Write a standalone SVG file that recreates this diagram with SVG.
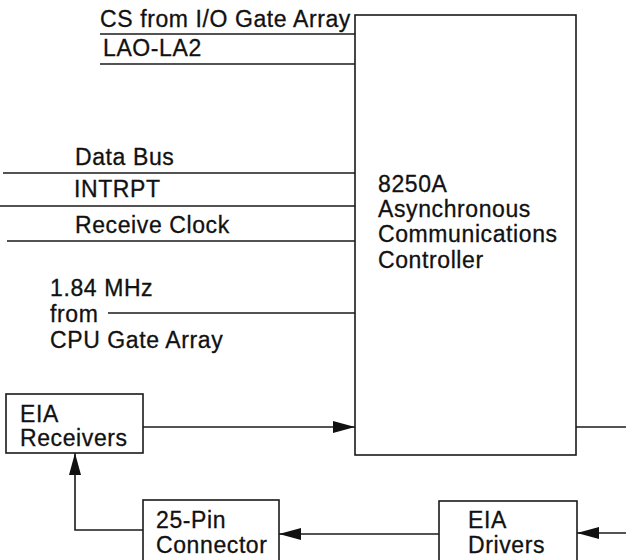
<svg xmlns="http://www.w3.org/2000/svg" width="626" height="560" viewBox="0 0 626 560">
<style>
.box{fill:#fff;stroke:#1a1a1a;stroke-width:1.6}
.ln{fill:none;stroke:#1a1a1a;stroke-width:1.6}
text{font-family:"Liberation Sans",Arial,sans-serif;font-size:23px;fill:#111;stroke:#111;stroke-width:0.3;letter-spacing:0.6px}
</style>
<defs>
<marker id="ah" viewBox="0 0 22 14" refX="22" refY="7" markerWidth="22" markerHeight="14" markerUnits="userSpaceOnUse" orient="auto">
<path d="M0,1 L22,7 L0,13 Z" fill="#111"/>
</marker>
</defs>
<rect width="626" height="560" fill="#fff"/>
<g id="connectors">
<line class="ln" x1="100" y1="34" x2="355" y2="34"/>
<line class="ln" x1="100" y1="64" x2="355" y2="64"/>
<line class="ln" x1="3" y1="173" x2="355" y2="173"/>
<line class="ln" x1="0" y1="206" x2="355" y2="206"/>
<line class="ln" x1="7" y1="241" x2="355" y2="241"/>
<line class="ln" x1="108" y1="313" x2="355" y2="313"/>
<line class="ln" x1="143" y1="427" x2="355" y2="427" marker-end="url(#ah)"/>
<line class="ln" x1="576" y1="427" x2="626" y2="427"/>
<line class="ln" x1="626" y1="533" x2="577" y2="533" marker-end="url(#ah)"/>
<line class="ln" x1="439" y1="534" x2="279" y2="534" marker-end="url(#ah)"/>
<polyline class="ln" points="143,530 75,530 75,453" marker-end="url(#ah)"/>
</g>
<g id="labels">
<text x="100" y="27">CS from I/O Gate Array</text>
<text x="103" y="56">LAO-LA2</text>
<text x="75" y="165">Data Bus</text>
<text x="74" y="197">INTRPT</text>
<text x="75" y="233">Receive Clock</text>
<text x="50" y="296">1.84 MHz</text>
<text x="50" y="322">from</text>
<text x="50" y="348">CPU Gate Array</text>
</g>
<g id="ace">
<rect class="box" x="355" y="15" width="221" height="440"/>
<text x="378" y="192">8250A</text>
<text x="378" y="217">Asynchronous</text>
<text x="378" y="242">Communications</text>
<text x="378" y="268">Controller</text>
</g>
<g id="eia-receivers">
<rect class="box" x="6" y="394" width="137" height="59"/>
<text x="20" y="422">EIA</text>
<text x="20" y="446">Receivers</text>
</g>
<g id="pin-connector">
<rect class="box" x="143" y="500" width="136" height="80"/>
<text x="156" y="528">25-Pin</text>
<text x="156" y="553">Connector</text>
</g>
<g id="eia-drivers">
<rect class="box" x="439" y="501" width="138" height="80"/>
<text x="468" y="528">EIA</text>
<text x="468" y="553">Drivers</text>
</g>
</svg>
